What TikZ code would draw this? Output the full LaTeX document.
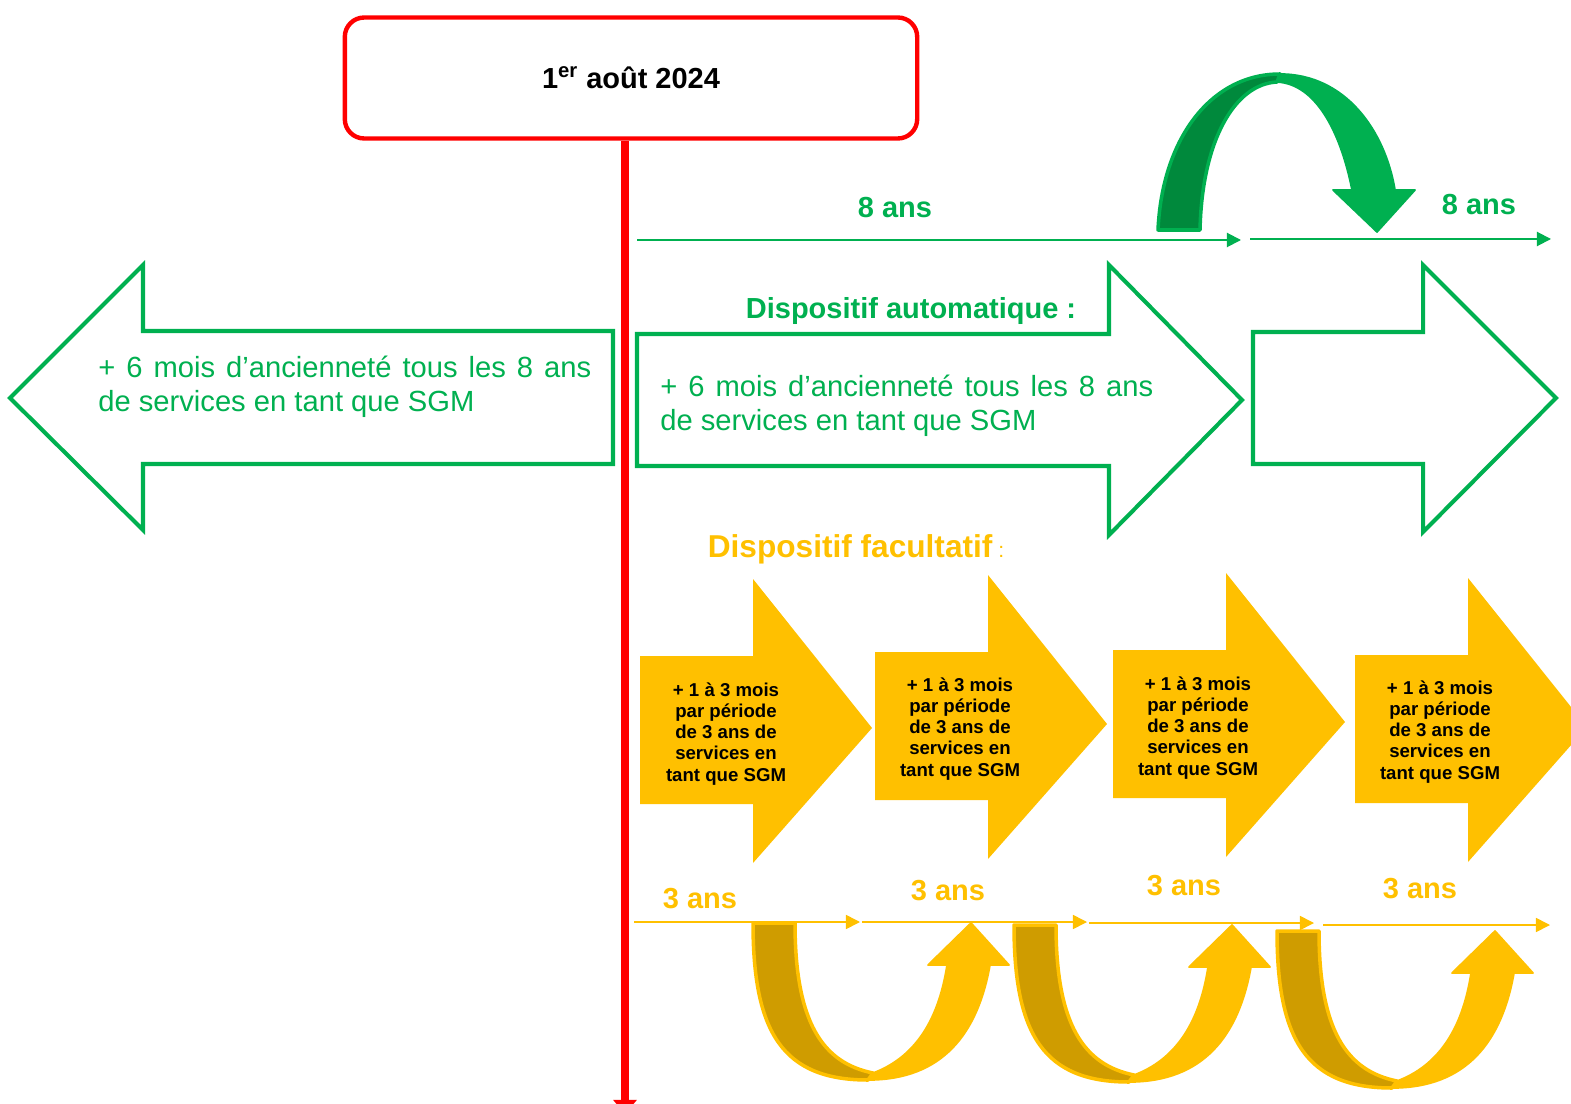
\documentclass[tikz,border=0pt]{standalone}
\usepackage{fontspec}
\setmainfont{Liberation Sans}
\usepackage{xcolor}
\usepackage{tikz}
\usetikzlibrary{arrows.meta}

\definecolor{sgmgreen}{HTML}{00B050}
\definecolor{sgmdarkgreen}{HTML}{00893C}
\definecolor{sgmyellow}{HTML}{FFC000}
\definecolor{sgmdarkyellow}{HTML}{CF9C00}
\definecolor{sgmred}{HTML}{FF0000}

\tikzset{
  ujump/.pic={
    \filldraw[fill=sgmdarkyellow, draw=sgmyellow, line width=2pt, line join=round]
      (0,0) .. controls (0,110) and (30,157) .. (115,157) -- (120,150)
      .. controls (70,140) and (42,100) .. (42,0) -- cycle;
    \filldraw[fill=sgmyellow, draw=sgmyellow, line width=1pt, line join=round]
      (115,157) .. controls (190,157) and (225,110) .. (237,42)
      -- (256,42) -- (218,0) -- (175,42) -- (194,42)
      .. controls (185,100) and (160,135) .. (120,150) -- cycle;
  },
  stepshape/.pic={
    \fill[sgmyellow] (0,-74) -- (113,-74) -- (113,-151) -- (232,-2) -- (113,133) -- (113,74) -- (0,74) -- cycle;
  }
}

\begin{document}
\begin{tikzpicture}[x=0.02cm, y=-0.02cm,
    title/.style={draw=sgmred, line width=2.5pt, rounded corners=11pt, minimum width=11.45cm, minimum height=2.42cm, font=\bfseries\fontsize{16.5}{20}\selectfont},
    bigarrow/.style={draw=sgmgreen, line width=2.3pt, fill=white},
    greentext/.style={text=sgmgreen, text width=9.86cm, align=justify, inner sep=0pt, font=\fontsize{16.6}{19.3}\selectfont},
    steptext/.style={align=center, inner sep=0pt, font=\bfseries\fontsize{10.6}{12}\selectfont},
    duration/.style={inner sep=0pt, font=\bfseries\fontsize{16.5}{20}\selectfont},
    greenline/.style={draw=sgmgreen, line width=1.1pt, -{Triangle[length=8pt, width=8pt]}},
    yellowline/.style={draw=sgmyellow, line width=0.9pt, -{Triangle[length=8pt, width=8pt]}},
]
    \useasboundingbox (0,0) rectangle (1571,1104);
    \clip (0,0) rectangle (1571,1104);

    % Big green arrows
    \draw[bigarrow] (613,331) -- (143,331) -- (143,265) -- (10,398) -- (143,530) -- (143,464) -- (613,464) -- cycle;
    \draw[bigarrow] (637,334) -- (1109,334) -- (1109,265) -- (1242,400) -- (1109,535) -- (1109,466) -- (637,466) -- cycle;
    \draw[bigarrow] (1253,332) -- (1423,332) -- (1423,265) -- (1556,398) -- (1423,532) -- (1423,464) -- (1253,464) -- cycle;

    % Yellow arrows
    \pic at (640,730) {stepshape};
    \pic at (875,726) {stepshape};
    \pic at (1113,724) {stepshape};
    \pic at (1355,729) {stepshape};

    % Nodes
    \node[title] (date) at (631,78) {1\textsuperscript{er} août 2024};
    \node[greentext, anchor=west] (before) at (98,387) {+ 6 mois d’ancienneté tous les 8 ans\linebreak de services en tant que SGM};
    \node[greentext, anchor=west] (auto) at (660,406) {+ 6 mois d’ancienneté tous les 8 ans\linebreak de services en tant que SGM};
    \node[duration, text=sgmgreen] (autotitle) at (911,311) {Dispositif automatique :};
    \node[text=sgmyellow, inner sep=0pt] (optiontitle) at (856,549) {{\bfseries\fontsize{18}{20}\selectfont Dispositif facultatif}{\fontsize{12}{14}\selectfont\ :}};
    \node[duration, text=sgmgreen] (eight1) at (895,208) {8 ans};
    \node[duration, text=sgmgreen] (eight2) at (1479,205) {8 ans};
    \node[steptext] (step1) at (726,734) {+ 1 à 3 mois\\par période\\de 3 ans de\\services en\\tant que SGM};
    \node[steptext] (step2) at (960,729) {+ 1 à 3 mois\\par période\\de 3 ans de\\services en\\tant que SGM};
    \node[steptext] (step3) at (1198,728) {+ 1 à 3 mois\\par période\\de 3 ans de\\services en\\tant que SGM};
    \node[steptext] (step4) at (1440,732) {+ 1 à 3 mois\\par période\\de 3 ans de\\services en\\tant que SGM};
    \node[duration, text=sgmyellow] (three1) at (700,899) {3 ans};
    \node[duration, text=sgmyellow] (three2) at (948,891) {3 ans};
    \node[duration, text=sgmyellow] (three3) at (1184,886) {3 ans};
    \node[duration, text=sgmyellow] (three4) at (1420,889) {3 ans};

    % Time lines
    \coordinate (g0) at (637,240);
    \coordinate (g1) at (1241,240);
    \coordinate (g2) at (1250,239);
    \coordinate (g3) at (1551,239);
    \draw[greenline] (g0) -- (g1);
    \draw[greenline] (g2) -- (g3);

    \coordinate (y0) at (634,922);
    \coordinate (y1) at (860,922);
    \coordinate (y2) at (862,922);
    \coordinate (y3) at (1087,922);
    \coordinate (y4) at (1089,923);
    \coordinate (y5) at (1314,923);
    \coordinate (y6) at (1323,925);
    \coordinate (y7) at (1550,925);
    \draw[yellowline] (y0) -- (y1);
    \draw[yellowline] (y2) -- (y3);
    \draw[yellowline] (y4) -- (y5);
    \draw[yellowline] (y6) -- (y7);

    % Curved arrows
    \pic at (753,923) {ujump};
    \pic at (1014,925) {ujump};
    \pic at (1277,931) {ujump};

    \filldraw[fill=sgmdarkgreen, draw=sgmgreen, line width=2pt, line join=round]
      (1158,230) .. controls (1162,140) and (1210,74) .. (1280,74) -- (1277,82)
      .. controls (1235,84) and (1202,140) .. (1200,230) -- cycle;
    \filldraw[fill=sgmgreen, draw=sgmgreen, line width=1pt, line join=round]
      (1280,74) .. controls (1345,74) and (1385,130) .. (1395,190)
      -- (1415,190) -- (1377,232) -- (1333,190) -- (1352,190)
      .. controls (1340,130) and (1315,84) .. (1277,82) -- cycle;

    % Date line
    \coordinate (redend) at (625,1114);
    \draw[sgmred, line width=5pt, -{Triangle[length=8pt, width=13pt]}] (redend |- date.south) -- (redend);
\end{tikzpicture}
\end{document}
